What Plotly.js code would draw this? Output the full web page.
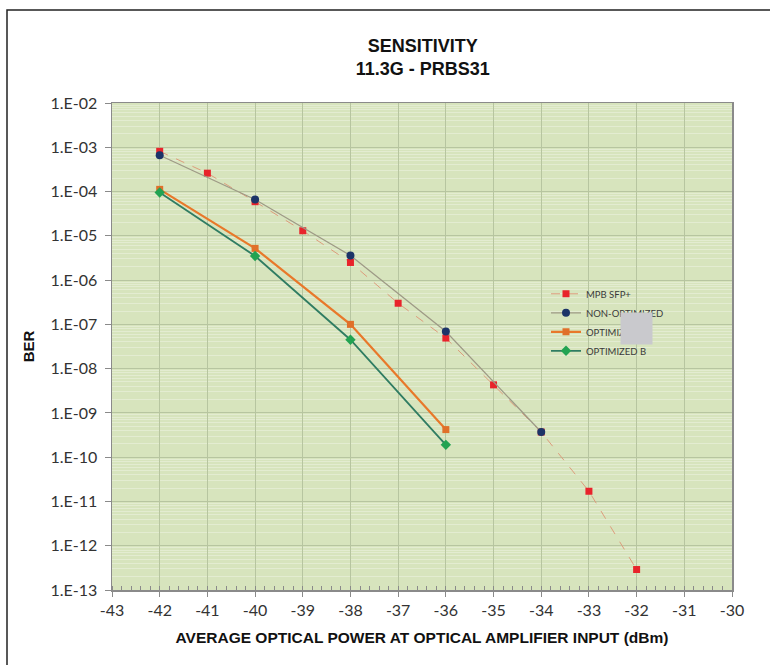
<!DOCTYPE html>
<html>
<head>
<meta charset="utf-8">
<script src="https://cdn.plot.ly/plotly-3.0.1.min.js"></script>
<style>html,body{margin:0;padding:0;background:#fff;}#chart{width:770px;height:665px;}</style>
</head>
<body>
<div id="chart"></div>
<script>
// Data
var powerMPB = [-42, -41, -40, -39, -38, -37, -36, -35, -34, -33, -32];
var berMPB = [8.1e-4, 2.6e-4, 5.9e-5, 1.3e-5, 2.5e-6, 3.0e-7, 4.9e-8, 4.3e-9, 3.7e-10, 1.7e-11, 2.9e-13];

var powerNonOpt = [-42, -40, -38, -36, -34];
var berNonOpt = [6.6e-4, 6.6e-5, 3.6e-6, 6.9e-8, 3.7e-10];

var powerOptA = [-42, -40, -38, -36];
var berOptA = [1.12e-4, 5.2e-6, 1.0e-7, 4.2e-10];

var powerOptB = [-42, -40, -38, -36];
var berOptB = [9.5e-5, 3.5e-6, 4.5e-8, 1.9e-10];

var seriesNames = ['MPB SFP+', 'NON-OPTIMIZED', 'OPTIMIZED A', 'OPTIMIZED B'];

var xTickVals = [-43, -42, -41, -40, -39, -38, -37, -36, -35, -34, -33, -32, -31, -30];
var xTickText = ['-43', '-42', '-41', '-40', '-39', '-38', '-37', '-36', '-35', '-34', '-33', '-32', '-31', '-30'];

var yTickVals = [1e-2, 1e-3, 1e-4, 1e-5, 1e-6, 1e-7, 1e-8, 1e-9, 1e-10, 1e-11, 1e-12, 1e-13];
var yTickText = ['1.E-02', '1.E-03', '1.E-04', '1.E-05', '1.E-06', '1.E-07', '1.E-08', '1.E-09', '1.E-10', '1.E-11', '1.E-12', '1.E-13'];

var traces = [
  {x: powerMPB, y: berMPB, name: seriesNames[0], type: 'scatter', mode: 'lines+markers',
   line: {color: '#dd9c7c', width: 1, dash: 'dash'},
   marker: {symbol: 'square', size: 7, color: '#e8232b'}},
  {x: powerNonOpt, y: berNonOpt, name: seriesNames[1], type: 'scatter', mode: 'lines+markers',
   line: {color: '#9e9a86', width: 1.3},
   marker: {symbol: 'circle', size: 8, color: '#1c3468'}},
  {x: powerOptA, y: berOptA, name: seriesNames[2], type: 'scatter', mode: 'lines+markers',
   line: {color: '#e8782a', width: 2.2},
   marker: {symbol: 'square', size: 7, color: '#e0702a'}},
  {x: powerOptB, y: berOptB, name: seriesNames[3], type: 'scatter', mode: 'lines+markers',
   line: {color: '#2f7c62', width: 1.8},
   marker: {symbol: 'diamond', size: 8, color: '#22a352'}}
];

var tickFont = {family: 'Lato, "Open Sans", sans-serif', size: 16, color: '#333'};
var boldFont = '"Liberation Sans", Arial, sans-serif';

var layout = {
  width: 770, height: 665,
  margin: {l: 112, r: 38, t: 103, b: 75},
  paper_bgcolor: '#ffffff',
  plot_bgcolor: '#d7e4bd',
  showlegend: true,
  title: {
    text: '<b>SENSITIVITY<br>11.3G - PRBS31</b>',
    font: {family: boldFont, size: 18, color: '#111'},
    x: 0.549, xanchor: 'center', y: 0.922, yanchor: 'top'
  },
  xaxis: {
    range: [-43, -30], tickmode: 'array', tickvals: xTickVals, ticktext: xTickText,
    showgrid: true, gridcolor: '#b7c5a0', gridwidth: 1,
    zeroline: false,
    showline: true, linecolor: '#8a8a8a', linewidth: 1.5, mirror: true,
    ticks: 'outside', ticklen: 5, tickcolor: '#8a8a8a', tickwidth: 1,
    minor: {dtick: 0.2, tick0: -43, ticks: 'inside', ticklen: 4, tickcolor: '#8a8a8a', showgrid: false},
    tickfont: tickFont,
    title: {text: '<b>AVERAGE OPTICAL POWER AT OPTICAL AMPLIFIER INPUT (dBm)</b>',
            font: {family: boldFont, size: 15.5, color: '#111'}, standoff: 14}
  },
  yaxis: {
    type: 'log', range: [-13, -2],
    tickmode: 'array', tickvals: yTickVals, ticktext: yTickText,
    showgrid: true, gridcolor: '#b7c5a0', gridwidth: 1,
    zeroline: false,
    showline: true, linecolor: '#8a8a8a', linewidth: 1.5, mirror: true,
    ticks: 'outside', ticklen: 6, tickcolor: '#8a8a8a',
    ticklabelstandoff: 4,
    minor: {dtick: 'D1', showgrid: true, gridcolor: 'rgba(255,255,255,0.3)', gridwidth: 1, ticks: ''},
    tickfont: tickFont,
    title: {text: '<b>BER</b>', font: {family: boldFont, size: 15, color: '#111'}, standoff: 12}
  },
  legend: {
    x: 0.70, xanchor: 'left', y: 0.638, yanchor: 'top',
    bgcolor: 'rgba(0,0,0,0)', borderwidth: 0,
    font: {family: 'Lato, "Open Sans", sans-serif', size: 9.5, color: '#3a3a3a'},
    itemwidth: 30, tracegroupgap: 0
  },
  shapes: [
    {type: 'rect', xref: 'paper', yref: 'paper',
     x0: (7 - 112) / 620, x1: (800 - 112) / 620, y0: (590 - 700) / 487, y1: (590 - 10) / 487,
     line: {color: '#222', width: 1.5}, fillcolor: 'rgba(0,0,0,0)', layer: 'below'}
  ],
  annotations: [
    {xref: 'paper', yref: 'paper', x: (636.5 - 112) / 620, y: (590 - 328.5) / 487,
     xanchor: 'center', yanchor: 'middle', text: ' ', showarrow: false,
     width: 31, height: 31, bgcolor: '#c9c9cd', borderpad: 0}
  ]
};

Plotly.newPlot('chart', traces, layout, {staticPlot: true, displayModeBar: false});
</script>
</body>
</html>
